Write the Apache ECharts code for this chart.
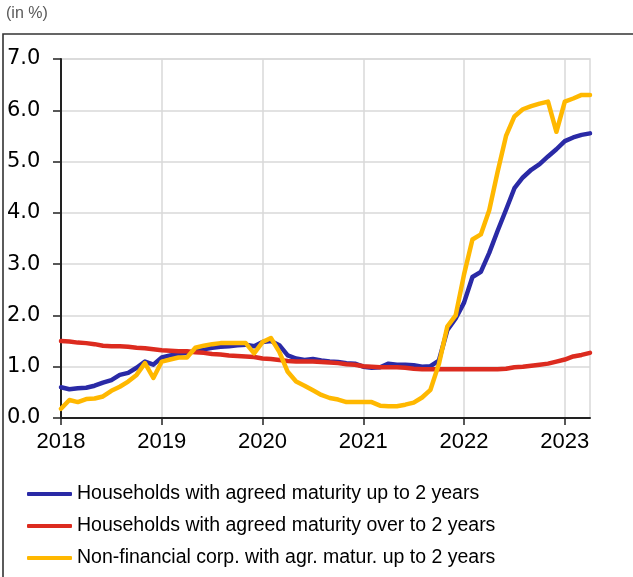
<!DOCTYPE html>
<html>
<head>
<meta charset="utf-8">
<script src="https://cdn.jsdelivr.net/npm/echarts@6/dist/echarts.min.js"></script>
<style>
html,body{margin:0;padding:0;background:#fff;}
#chart{width:633px;height:577px;}
</style>
</head>
<body>
<div id="chart"></div>
<script>
// Monthly categories Jan 2018 .. Apr 2023
const years = [2018, 2019, 2020, 2021, 2022, 2023];
const months = ["01","02","03","04","05","06","07","08","09","10","11","12"];
const categories = [];
years.forEach(y => months.forEach(m => categories.push(y + "-" + m)));
categories.length = 64;

const seriesNames = [
  "Households with agreed maturity up to 2 years",
  "Households with agreed maturity over to 2 years",
  "Non-financial corp. with agr. matur. up to 2 years"
];

const householdsUpTo2 = [
  0.60, 0.56, 0.58, 0.59, 0.63, 0.69, 0.74, 0.84, 0.88, 0.98, 1.10, 1.04,
  1.18, 1.22, 1.25, 1.27, 1.30, 1.34, 1.37, 1.39, 1.40, 1.42, 1.43, 1.40,
  1.48, 1.50, 1.42, 1.22, 1.16, 1.13, 1.15, 1.12, 1.10, 1.09, 1.07, 1.06,
  1.00, 0.98, 0.99, 1.06, 1.04, 1.04, 1.03, 1.00, 1.01, 1.12, 1.71, 1.94,
  2.25, 2.75, 2.85, 3.22, 3.65, 4.06, 4.48, 4.69, 4.84, 4.95, 5.10, 5.24,
  5.40, 5.47, 5.52, 5.55
];

const householdsOver2 = [
  1.50, 1.49, 1.47, 1.46, 1.44, 1.41, 1.40, 1.40, 1.39, 1.37, 1.36, 1.34,
  1.32, 1.31, 1.30, 1.30, 1.28, 1.27, 1.25, 1.24, 1.22, 1.21, 1.20, 1.19,
  1.16, 1.15, 1.13, 1.11, 1.10, 1.10, 1.10, 1.09, 1.08, 1.07, 1.05, 1.04,
  1.01, 1.00, 0.99, 0.99, 0.99, 0.98, 0.96, 0.95, 0.95, 0.95, 0.95, 0.95,
  0.95, 0.95, 0.95, 0.95, 0.95, 0.96, 0.99, 1.00, 1.02, 1.04, 1.06, 1.10,
  1.14, 1.20, 1.23, 1.27
];

const nfcUpTo2 = [
  0.18, 0.35, 0.31, 0.37, 0.38, 0.42, 0.53, 0.61, 0.71, 0.84, 1.07, 0.78,
  1.10, 1.14, 1.18, 1.18, 1.37, 1.41, 1.44, 1.46, 1.46, 1.46, 1.46, 1.26,
  1.48, 1.56, 1.29, 0.90, 0.71, 0.63, 0.54, 0.45, 0.39, 0.36, 0.31, 0.31,
  0.31, 0.31, 0.24, 0.23, 0.23, 0.26, 0.30, 0.40, 0.55, 1.05, 1.78, 2.00,
  2.80, 3.48, 3.58, 4.05, 4.80, 5.50, 5.88, 6.02, 6.08, 6.13, 6.17, 5.58,
  6.17, 6.23, 6.30, 6.30
];

const colors = ["#2a2aa6", "#dc2b1f", "#ffb800"];

const chart = echarts.init(document.getElementById('chart'), null, {renderer: 'canvas'});

const mk = (name, data, color) => ({
  name, type: 'line', data, symbol: 'none', smooth: false,
  lineStyle: {color, width: 4.5, cap: 'round', join: 'round'},
  itemStyle: {color}
});

chart.setOption({
  animation: false,
  textStyle: {fontFamily: 'Liberation Sans, Arial, sans-serif'},
  graphic: [
    {type: 'rect', shape: {x: 3, y: 34, width: 700, height: 700},
     style: {fill: 'none', stroke: '#333', lineWidth: 1.6}, z: 0},
    {type: 'text', left: 6, top: 6,
     style: {text: '(in %)', fill: '#595959', font: '16px "Liberation Sans", Arial, sans-serif'}}
  ],
  grid: {left: 61, right: 43, top: 59, bottom: 159, show: true,
         borderColor: '#d9d9d9', borderWidth: 1.5, backgroundColor: 'transparent'},
  xAxis: {
    type: 'category', data: categories, boundaryGap: false,
    axisLine: {lineStyle: {color: '#222', width: 2}},
    axisTick: {show: true, interval: 11, length: 7, lineStyle: {color: '#222', width: 1.5}},
    axisLabel: {interval: 11, margin: 13, color: '#000', fontSize: 22,
                fontFamily: 'Liberation Sans, Arial, sans-serif',
                formatter: v => v.slice(0, 4)},
    splitLine: {show: true, interval: 11, lineStyle: {color: '#d9d9d9', width: 1.5}}
  },
  yAxis: {
    type: 'value', min: 0, max: 7, interval: 1,
    axisLine: {show: true, lineStyle: {color: '#222', width: 2}},
    axisTick: {show: true, length: 8, lineStyle: {color: '#222', width: 1.5}},
    axisLabel: {align: 'left', margin: 54, color: '#000', fontSize: 21,
                fontFamily: 'DejaVu Sans, sans-serif',
                formatter: v => v.toFixed(1)},
    splitLine: {show: true, lineStyle: {color: '#d9d9d9', width: 1.5}}
  },
  legend: {
    orient: 'vertical', left: 27, top: 483, itemGap: 10, padding: 0,
    height: 95,
    itemWidth: 45, itemHeight: 4, icon: 'roundRect',
    textStyle: {fontSize: 19.5, color: '#000', lineHeight: 22,
                fontFamily: 'Liberation Sans, Arial, sans-serif'},
    data: seriesNames
  },
  series: [
    mk(seriesNames[0], householdsUpTo2, colors[0]),
    mk(seriesNames[1], householdsOver2, colors[1]),
    mk(seriesNames[2], nfcUpTo2, colors[2])
  ]
});
</script>
</body>
</html>
